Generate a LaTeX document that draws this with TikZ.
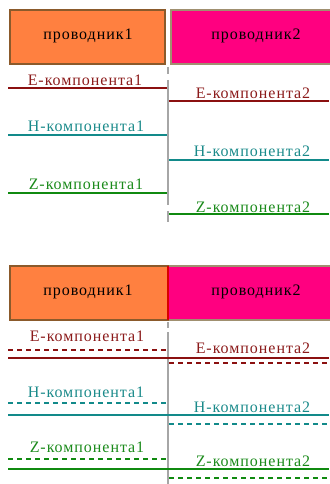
\documentclass[tikz,border=0pt]{standalone}
\usepackage{fontspec}
\newfontfamily\lblfont[LetterSpace=6]{Liberation Serif}
\begin{document}
\begin{tikzpicture}[x=1pt,y=-1pt,
  lbl/.style={font=\lblfont\fontsize{16}{17}\selectfont, inner sep=0pt, anchor=center},
  cond1/.style={draw=brown1, fill=orange1, line width=1.5pt},
  cond2/.style={draw=olive1, fill=magenta1, line width=1.5pt},
  sep/.style={draw=gray!70, line width=1.3pt},
  solidE/.style={draw=eline, line width=2.6pt},
  solidH/.style={draw=hline, line width=2.6pt},
  solidZ/.style={draw=zline, line width=2.6pt},
  dashE/.style={draw=eline, line width=1.1pt, dash pattern=on 5pt off 4pt},
  dashH/.style={draw=hline, line width=1.1pt, dash pattern=on 5pt off 4pt},
  dashZ/.style={draw=zline, line width=1.1pt, dash pattern=on 5pt off 4pt}]
\definecolor{orange1}{HTML}{FF8040}
\definecolor{magenta1}{HTML}{FF0080}
\definecolor{brown1}{HTML}{8B5A2B}
\definecolor{olive1}{HTML}{A09070}
\definecolor{eline}{HTML}{8B1010}
\definecolor{hline}{HTML}{128A8A}
\definecolor{zline}{HTML}{108A10}
\definecolor{etext}{HTML}{8B1A1A}
\definecolor{htext}{HTML}{1A8A8A}
\definecolor{ztext}{HTML}{1A8A1A}
\useasboundingbox (0,0) rectangle (329,484);
% ---------- top diagram ----------
\path[cond1] (10,10) rectangle (165,64);
\path[cond2] (171,10) rectangle (332,64);
\node[lbl] (p1a) at (88,36) {проводник1};
\node[lbl] (p2a) at (256,36) {проводник2};
\path[sep] (168,67) -- (168,74);
\path[sep] (168,80) -- (168,205);
\path[sep] (168,211) -- (168,222);
\path[solidE] (8,88) -- (167,88);
\path[solidE] (169,101) -- (329,101);
\path[solidH] (8,135) -- (167,135);
\path[solidH] (169,160) -- (329,160);
\path[solidZ] (8,193) -- (167,193);
\path[solidZ] (169,214) -- (329,214);
\node[lbl, text=etext] (e1a) at (85,80) {E-компонента1};
\node[lbl, text=etext] (e2a) at (253,93) {E-компонента2};
\node[lbl, text=htext] (h1a) at (86,126) {H-компонента1};
\node[lbl, text=htext] (h2a) at (252,151) {H-компонента2};
\node[lbl, text=ztext] (z1a) at (86,184) {Z-компонента1};
\node[lbl, text=ztext] (z2a) at (253,207) {Z-компонента2};
% ---------- bottom diagram ----------
\path[cond1] (10,266) rectangle (168,320);
\fill[magenta1] (168.75,265.25) rectangle (332,320.75);
\draw[olive1, line width=1.5pt] (168.75,266) -- (332,266) (168.75,320) -- (332,320);
\draw[red!85!black, line width=1.5pt] (168,266) -- (168,320);
\node[lbl] (p1b) at (88,292) {проводник1};
\node[lbl] (p2b) at (256,292) {проводник2};
\path[sep] (168,322) -- (168,328);
\path[sep] (168,332) -- (168,484);
\path[dashE] (8,350) -- (167,350);
\path[solidE] (8,358) -- (329,358);
\path[dashE] (169,363) -- (329,363);
\path[dashH] (8,403) -- (167,403);
\path[solidH] (8,415) -- (329,415);
\path[dashH] (169,424) -- (329,424);
\path[dashZ] (8,459) -- (167,459);
\path[solidZ] (8,469) -- (329,469);
\path[dashZ] (169,478) -- (329,478);
\node[lbl, text=etext] (e1b) at (87,336) {E-компонента1};
\node[lbl, text=etext] (e2b) at (253,348) {E-компонента2};
\node[lbl, text=htext] (h1b) at (86,392) {H-компонента1};
\node[lbl, text=htext] (h2b) at (252,407) {H-компонента2};
\node[lbl, text=ztext] (z1b) at (87,447) {Z-компонента1};
\node[lbl, text=ztext] (z2b) at (253,461) {Z-компонента2};
\end{tikzpicture}
\end{document}
